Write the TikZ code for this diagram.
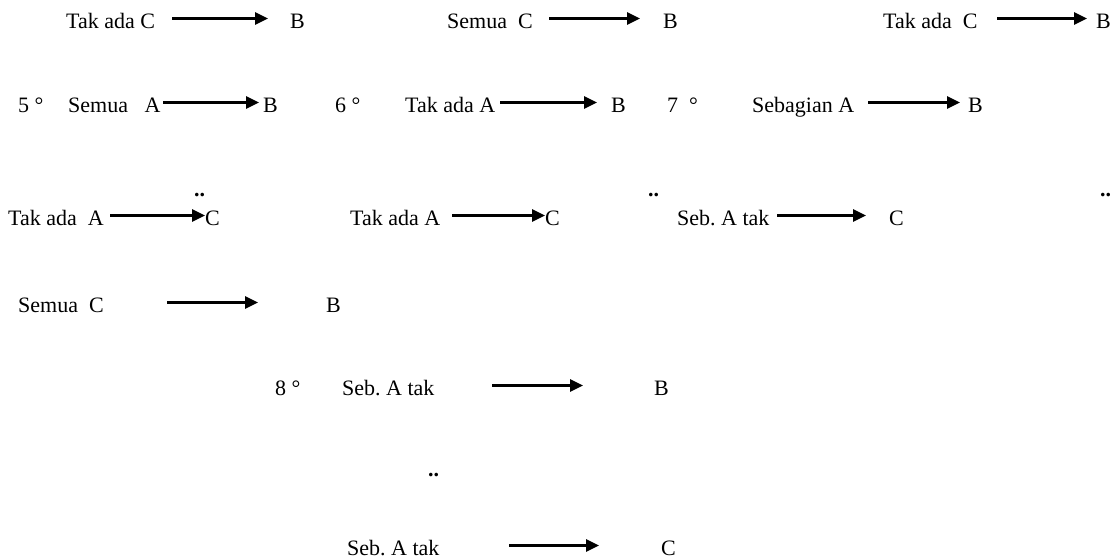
\documentclass[tikz,border=0pt]{standalone}
\usepackage{fontspec}
\setmainfont{Liberation Serif}
\usetikzlibrary{arrows.meta}
\frenchspacing
\begin{document}
\begin{tikzpicture}[x=1pt,y=-1pt,
  txt/.style={anchor=base west,inner sep=0pt,font=\fontsize{22}{26}\selectfont},
  dots/.style={anchor=base west,inner sep=0pt,font=\fontsize{22}{26}\selectfont\bfseries},
  arr/.style={line width=2.8pt,-{Triangle[length=13pt,width=12pt]}}]
\useasboundingbox (0,0) rectangle (1113,558);
% Row 1
\node[txt] (r1a) at (66,28) {Tak ada C};
\node[txt] (r1aB) at (290,28) {B};
\coordinate (r1as) at (172,18.5); \coordinate (r1ae) at (268,18.5);
\draw[arr] (r1as) -- (r1ae);
\node[txt] (r1b) at (447,28) {Semua\ \ C};
\node[txt] (r1bB) at (663,28) {B};
\coordinate (r1bs) at (549,18.5); \coordinate (r1be) at (640,18.5);
\draw[arr] (r1bs) -- (r1be);
\node[txt] (r1c) at (883,28) {Tak ada\ \ C};
\node[txt] (r1cB) at (1096,28) {B};
\coordinate (r1cs) at (997,18.5); \coordinate (r1ce) at (1087,18.5);
\draw[arr] (r1cs) -- (r1ce);
% Row 2
\node[txt] (n5) at (18,112) {5 °};
\node[txt] (r2a) at (68,112) {Semua\ \ \ A};
\node[txt] (r2aB) at (263,112) {B};
\coordinate (r2as) at (163,102.5); \coordinate (r2ae) at (259,102.5);
\draw[arr] (r2as) -- (r2ae);
\node[txt] (n6) at (335,112) {6 °};
\node[txt] (r2b) at (405,112) {Tak ada A};
\node[txt] (r2bB) at (611,112) {B};
\coordinate (r2bs) at (500,102.5); \coordinate (r2be) at (597,102.5);
\draw[arr] (r2bs) -- (r2be);
\node[txt] (n7) at (667,112) {7\ \ °};
\node[txt] (r2c) at (752,112) {Sebagian A};
\node[txt] (r2cB) at (968,112) {B};
\coordinate (r2cs) at (868,102.5); \coordinate (r2ce) at (960,102.5);
\draw[arr] (r2cs) -- (r2ce);
% Row 3 dots
\node[dots] (d1) at (194,196) {..};
\node[dots] (d2) at (648,196) {..};
\node[dots] (d3) at (1100,196) {..};
% Row 4
\node[txt] (r4a) at (8,225) {Tak ada\ \ A};
\node[txt] (r4aC) at (205,225) {C};
\coordinate (r4as) at (110,215.5); \coordinate (r4ae) at (205,215.5);
\draw[arr] (r4as) -- (r4ae);
\node[txt] (r4b) at (350,225) {Tak ada A};
\node[txt] (r4bC) at (545,225) {C};
\coordinate (r4bs) at (452,215.5); \coordinate (r4be) at (545,215.5);
\draw[arr] (r4bs) -- (r4be);
\node[txt] (r4c) at (677,225) {Seb. A tak};
\node[txt] (r4cC) at (889,225) {C};
\coordinate (r4cs) at (777,215.5); \coordinate (r4ce) at (866,215.5);
\draw[arr] (r4cs) -- (r4ce);
% Row 5
\node[txt] (r5a) at (18,312) {Semua\ \ C};
\node[txt] (r5aB) at (326,312) {B};
\coordinate (r5as) at (167,302.5); \coordinate (r5ae) at (258,302.5);
\draw[arr] (r5as) -- (r5ae);
% Row 6
\node[txt] (n8) at (275,395) {8 °};
\node[txt] (r6a) at (342,395) {Seb. A tak};
\node[txt] (r6aB) at (654,395) {B};
\coordinate (r6as) at (492,385.5); \coordinate (r6ae) at (583,385.5);
\draw[arr] (r6as) -- (r6ae);
% Row 7 dots
\node[dots] (d4) at (428,476) {..};
% Row 8
\node[txt] (r8a) at (347,555) {Seb. A tak};
\node[txt] (r8aC) at (661,555) {C};
\coordinate (r8as) at (509,545.5); \coordinate (r8ae) at (599,545.5);
\draw[arr] (r8as) -- (r8ae);
\end{tikzpicture}
\end{document}
